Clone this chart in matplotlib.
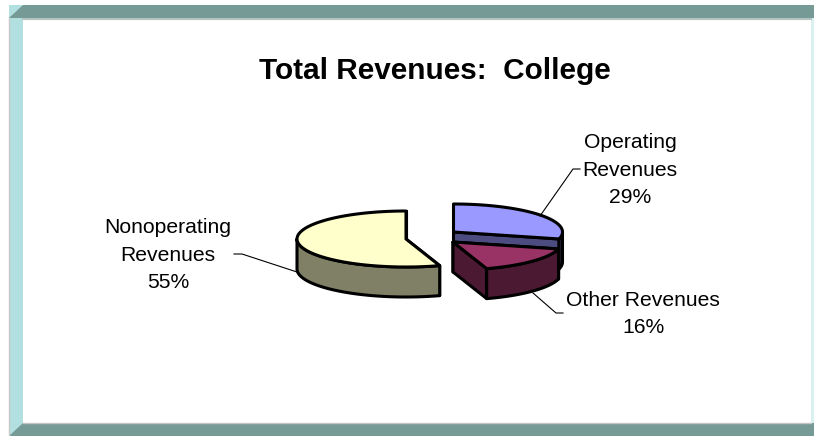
import numpy as np
import matplotlib
matplotlib.use('Agg')
import matplotlib.pyplot as plt
from matplotlib.patches import Rectangle, Polygon

plt.rcParams['font.family'] = ['Liberation Sans', 'DejaVu Sans']

categories = ['Operating\nRevenues', 'Other Revenues', 'Nonoperating\nRevenues']
shares = [29, 16, 55]

top_colors = ['#9999FF', '#993366', '#FFFFCC']
side_colors = ['#4C4C80', '#4C1933', '#808066']
centers = [(453.5, 232), (453, 242), (406, 239)]
RX, RY, DEPTH = 109, 28, 30
LW = 2.2


def arc(center, a0, a1):
    # angles run clockwise from 12 o'clock, in pixel space
    t = np.radians(np.linspace(a0, a1, 80))
    return np.column_stack([center[0] + RX * np.sin(t), center[1] - RY * np.cos(t)])


def drop(pts):
    return pts + np.array([0, DEPTH])


def face(pts, color):
    ax.add_patch(Polygon(pts, closed=True, facecolor=color, edgecolor='black',
                         linewidth=LW, joinstyle='round'))


def draw_slice(center, a0, a1, top, side):
    c = np.array(center, dtype=float)
    # cut faces first, then the outer wall, then the lid
    for a in (a0, a1):
        edge = np.vstack([c, arc(center, a, a)[0]])
        face(np.vstack([edge, drop(edge)[::-1]]), side)
    lo, hi = max(a0, 90), min(a1, 270)
    if hi > lo:
        wall = arc(center, lo, hi)
        face(np.vstack([wall, drop(wall)[::-1]]), side)
    face(np.vstack([c, arc(center, a0, a1)]), top)


fig = plt.figure(figsize=(8.14, 4.36), dpi=100)
ax = fig.add_axes([0, 0, 1, 1])
ax.set_xlim(0, 814)
ax.set_ylim(436, 0)
ax.axis('off')

# slide frame
ax.add_patch(Rectangle((9, 5), 14, 431, facecolor='#B2E0E0', edgecolor='none'))
ax.add_patch(Polygon([(9, 18), (23, 5), (814, 5), (814, 18)], facecolor='#769A96', edgecolor='none'))
ax.add_patch(Polygon([(9, 436), (23, 423), (814, 423), (814, 436)], facecolor='#769A96', edgecolor='none'))
ax.add_patch(Rectangle((811, 18), 3, 405, facecolor='#D8F0F0', edgecolor='none'))
ax.plot([9, 9], [18, 436], color='#C8C8C8', lw=1)
ax.plot([23, 811], [19, 19], color='#B4C4C0', lw=1.5)
ax.plot([23, 811], [423, 423], color='#C4C4C4', lw=1)

ax.text(435, 71, 'Total Revenues:  College', ha='center', va='center',
        fontsize=21.4, fontweight='bold')

# leader lines sit under the pie
ax.plot([580, 573, 540], [169, 169, 216], color='black', lw=0.8)
ax.plot([234, 242, 297], [254, 254, 272], color='black', lw=0.8)
ax.plot([533, 556, 563], [293, 313, 313], color='black', lw=0.8)

bounds = np.cumsum([0] + shares) * 3.6
for i in range(3):
    draw_slice(centers[i], bounds[i], bounds[i + 1], top_colors[i], side_colors[i])

label_pos = [(630, 170), (643, 314), (168, 255)]
for i, name in enumerate(categories):
    ax.text(label_pos[i][0], label_pos[i][1], f'{name}\n{shares[i]}%', ha='center', va='center',
            fontsize=15.2, linespacing=1.56)

fig.savefig('out.png', dpi=100)
